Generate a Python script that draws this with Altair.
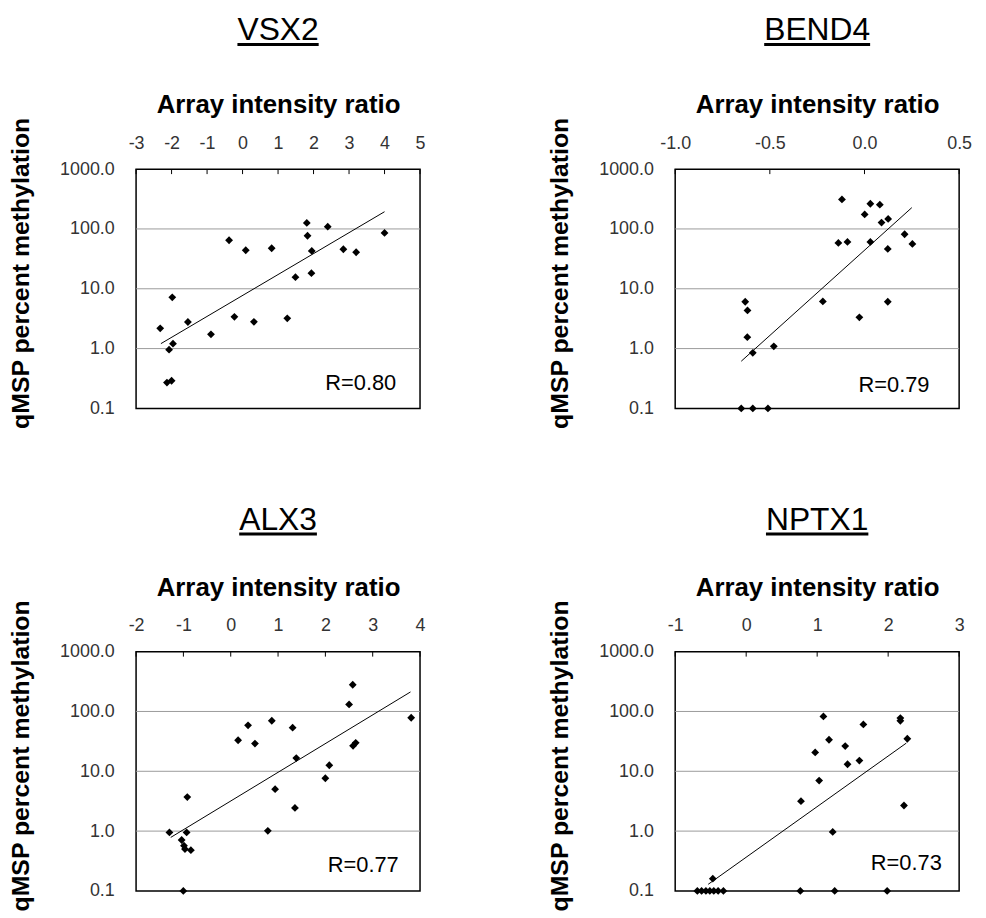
import altair as alt
import pandas as pd

FONT = "Liberation Sans"

# ---------------- data ----------------
vsx2_x = [-2.32, -2.07, -1.96, -1.98, -2.13, -2.00, -1.54, -0.89, -0.38, -0.23, 0.09, 0.32,
          0.82, 1.26, 1.49, 1.81, 1.83, 1.95, 1.94, 2.40, 2.84, 3.20, 4.00]
vsx2_y = [2.18, 0.96, 1.21, 7.2, 0.27, 0.29, 2.78, 1.73, 64.7, 3.4, 44.0, 2.8,
          47.6, 3.2, 15.6, 126.0, 77.0, 43.0, 18.2, 109.0, 45.8, 40.8, 85.8]

bend4_x = [-0.630, -0.618, -0.619, -0.590, -0.479, -0.651, -0.590, -0.510, -0.220, -0.138,
           -0.090, -0.119, 0.001, 0.031, 0.031, -0.027, 0.081, 0.090, 0.125, 0.123, 0.123,
           0.212, 0.253]
bend4_y = [6.07, 4.35, 1.55, 0.85, 1.09, 0.1, 0.1, 0.1, 6.15, 58.5,
           60.7, 312.0, 175.0, 264.0, 60.7, 3.33, 255.0, 128.0, 147.0, 46.4, 6.07,
           81.5, 56.2]

alx3_x = [-1.295, -0.932, -0.918, -1.037, -0.988, -0.967, -0.842, -1.002, 0.156, 0.366,
          0.512, 0.868, 0.784, 0.938, 1.308, 1.385, 1.357, 1.999, 2.083, 2.501, 2.578,
          2.585, 2.641, 3.813]
alx3_y = [0.95, 0.95, 3.71, 0.71, 0.57, 0.50, 0.48, 0.1, 33.0, 58.6,
          29.1, 70.0, 1.01, 5.03, 53.6, 16.6, 2.44, 7.65, 12.6, 131.0, 280.0,
          26.6, 29.9, 78.5]

nptx1_x = [1.088, 0.972, 1.028, 1.167, 1.395, 1.428, 1.595, 1.651, 2.172, 2.172, 2.270,
           2.223, 0.772, 1.219, -0.470, -0.688, -0.628, -0.567, -0.512, -0.456, -0.395,
           -0.321, 0.763, 1.247, 1.986]
nptx1_y = [82.6, 20.7, 7.0, 33.7, 26.4, 13.1, 15.1, 60.7, 77.4, 69.9, 35.0,
           2.68, 3.16, 0.97, 0.16, 0.1, 0.1, 0.1, 0.1, 0.1, 0.1,
           0.1, 0.1, 0.1, 0.1]

# trend line end points
vsx2_trend_x = [-2.30, 4.00]
vsx2_trend_y = [1.21, 194.0]
bend4_trend_x = [-0.651, 0.250]
bend4_trend_y = [0.615, 227.0]
alx3_trend_x = [-1.267, 3.799]
alx3_trend_y = [0.785, 212.0]
nptx1_trend_x = [-0.535, 2.256]
nptx1_trend_y = [0.129, 29.6]

# x axis ticks
vsx2_ticks = [-3, -2, -1, 0, 1, 2, 3, 4, 5]
bend4_ticks = [-1.0, -0.5, 0.0, 0.5]
alx3_ticks = [-2, -1, 0, 1, 2, 3, 4]
nptx1_ticks = [-1, 0, 1, 2, 3]

# y axis ticks and gridlines
y_ticks = [0.1, 1, 10, 100, 1000]
y_grid = [1, 10, 100]

# correlation labels
r_labels = ["R=0.80", "R=0.79", "R=0.77", "R=0.73"]
r_x = [3.33, 0.156, 2.80, 2.256]
r_y = [0.27, 0.25, 0.266, 0.289]

genes = ["VSX2", "BEND4", "ALX3", "NPTX1"]

# ---------------- layout ----------------
W, H = 286, 241
TITLE_SIZE = 32
# Arial-like advance widths, for the underline length
CHAR_W = {"V": .667, "S": .667, "X": .667, "2": .556, "B": .667, "E": .667, "N": .722,
          "D": .722, "4": .556, "A": .667, "L": .556, "3": .556, "P": .667, "T": .611,
          "1": .556}


def panel(name, xs, ys, tx, ty, ticks, decimals, rlab, rx, ry, title_y, ul_y):
    pts = pd.DataFrame({"x": xs, "y": ys})
    trend = pd.DataFrame({"x": tx, "y": ty})
    grid = pd.DataFrame({"y": y_grid})
    tks = pd.DataFrame({"x": ticks})
    lab = pd.DataFrame({"x": [rx], "y": [ry], "t": [rlab]})
    ttl = pd.DataFrame({"t": [name]})

    dom = [ticks[0], ticks[-1]]
    fmt = f".{decimals}f"
    xs_ = alt.Scale(domain=dom, nice=False, zero=False)
    ys_ = alt.Scale(type="log", domain=[0.1, 1000], nice=False)
    xaxis = alt.Axis(
        orient="top", values=ticks, title="Array intensity ratio",
        labelExpr=f"(datum.value < -1e-9 ? '-' : '') + format(abs(datum.value), '{fmt}')",
        ticks=False, domain=False, grid=False,
        labelFont=FONT, labelFontSize=18, labelColor="#333333", labelPadding=17,
        titleFont=FONT, titleFontSize=26, titleFontWeight="bold", titleColor="black",
        titlePadding=17, labelFlush=False, labelOverlap=False,
    )
    yaxis = alt.Axis(
        values=y_ticks, format=".1f", title="qMSP percent methylation",
        ticks=False, domain=False, grid=False,
        labelFont=FONT, labelFontSize=18, labelColor="#333333", labelPadding=22,
        titleFont=FONT, titleFontSize=25, titleFontWeight="bold", titleColor="black",
        titlePadding=26, titleY=H / 2 - 16, labelFlush=False, labelOverlap=False,
    )
    X = alt.X("x:Q", scale=xs_, axis=xaxis)
    Y = alt.Y("y:Q", scale=ys_, axis=yaxis)

    grid_layer = alt.Chart(grid).mark_rule(color="#9a9a9a", strokeWidth=1).encode(y=Y)
    tick_layer = alt.Chart(tks).mark_rule(color="black", strokeWidth=1).encode(
        x=X, y=alt.value(0), y2=alt.value(5))
    trend_layer = alt.Chart(trend).mark_line(color="black", strokeWidth=1).encode(x=X, y=Y)
    pts_layer = alt.Chart(pts).mark_point(
        shape="diamond", filled=True, color="black", size=62, opacity=1).encode(x=X, y=Y)
    text_layer = alt.Chart(lab).mark_text(
        font=FONT, fontSize=22, color="black", align="center", baseline="middle").encode(
        x=X, y=Y, text="t:N")

    # panel title (gene name), underlined
    title_layer = alt.Chart(ttl).mark_text(
        font=FONT, fontSize=TITLE_SIZE, color="black", align="center",
        baseline="alphabetic").encode(
        x=alt.value(W / 2), y=alt.value(title_y), text="t:N")
    w = sum(CHAR_W[c] for c in name) * TITLE_SIZE
    ul_layer = alt.Chart(ttl).mark_rule(
        color="black", strokeWidth=3).encode(
        x=alt.value(W / 2 - w / 2), x2=alt.value(W / 2 + w / 2), y=alt.value(ul_y))

    return alt.layer(grid_layer, tick_layer, trend_layer, pts_layer, text_layer,
                     title_layer, ul_layer).properties(width=W, height=H)


p1 = panel(genes[0], vsx2_x, vsx2_y, vsx2_trend_x, vsx2_trend_y, vsx2_ticks, 0,
           r_labels[0], r_x[0], r_y[0], -130, -125.5)
p2 = panel(genes[1], bend4_x, bend4_y, bend4_trend_x, bend4_trend_y, bend4_ticks, 1,
           r_labels[1], r_x[1], r_y[1], -130, -125.5)
p3 = panel(genes[2], alx3_x, alx3_y, alx3_trend_x, alx3_trend_y, alx3_ticks, 0,
           r_labels[2], r_x[2], r_y[2], -123, -118.5)
p4 = panel(genes[3], nptx1_x, nptx1_y, nptx1_trend_x, nptx1_trend_y, nptx1_ticks, 0,
           r_labels[3], r_x[3], r_y[3], -123, -118.5)

chart = alt.concat(p1, p2, p3, p4, columns=2, spacing={"row": 245, "column": 257},
                   bounds="flush").properties(
    padding={"left": 0, "top": 2, "right": 5, "bottom": 5},
    background="white",
).configure_view(stroke="black", strokeWidth=1.5)

chart.save("out.html", embed_options={"renderer": "svg", "actions": False})
